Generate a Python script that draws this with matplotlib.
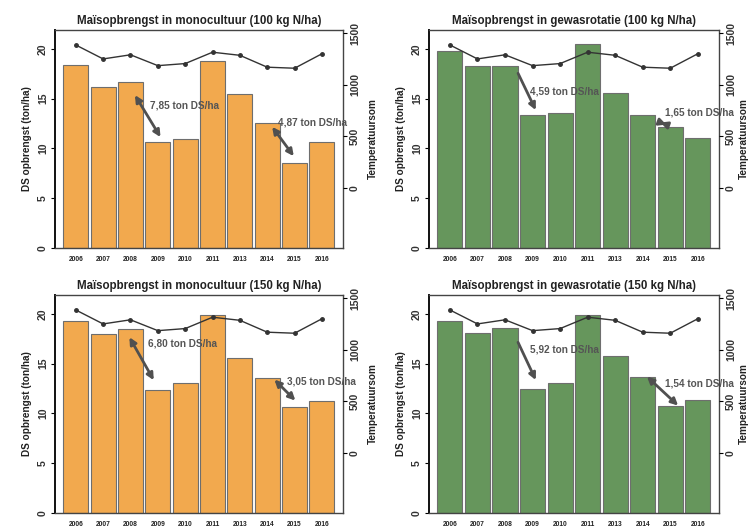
import matplotlib
matplotlib.use("Agg")
import matplotlib.pyplot as plt
import numpy as np

years = ["2006", "2007", "2008", "2009", "2010", "2011", "2013", "2014", "2015", "2016"]
temp_sum = [1385, 1250, 1290, 1185, 1205, 1315, 1285, 1170, 1160, 1300]

mono_100 = [18.4, 16.2, 16.7, 10.6, 11.0, 18.8, 15.5, 12.6, 8.5, 10.6]
rot_100 = [19.8, 18.3, 18.3, 13.4, 13.6, 20.5, 15.6, 13.4, 12.2, 11.1]
mono_150 = [19.3, 18.0, 18.5, 12.4, 13.1, 19.9, 15.6, 13.6, 10.6, 11.3]
rot_150 = [19.3, 18.1, 18.6, 12.5, 13.1, 19.9, 15.8, 13.7, 10.7, 11.4]

titles = ["Maïsopbrengst in monocultuur (100 kg N/ha)",
          "Maïsopbrengst in gewasrotatie (100 kg N/ha)",
          "Maïsopbrengst in monocultuur (150 kg N/ha)",
          "Maïsopbrengst in gewasrotatie (150 kg N/ha)"]

ann_texts = [["7,85 ton DS/ha", "4,87 ton DS/ha"],
             ["4,59 ton DS/ha", "1,65 ton DS/ha"],
             ["6,80 ton DS/ha", "3,05 ton DS/ha"],
             ["5,92 ton DS/ha", "1,54 ton DS/ha"]]

# (text x, text y, arrow start, arrow end) in data coordinates
ann_pos = [[(2.72, 14.3, (2.11, 15.6), (3.15, 10.9)), (7.41, 12.6, (7.12, 12.4), (8.03, 9.0))],
           [(2.90, 15.7, (2.43, 17.8), (3.16, 13.6)), (7.81, 13.6, (7.55, 12.7), (7.95, 12.3))],
           [(2.65, 17.0, (1.91, 17.9), (2.90, 13.1)), (7.74, 13.2, (7.19, 13.6), (8.10, 11.1))],
           [(2.90, 16.4, (2.43, 17.4), (3.16, 13.1)), (7.81, 13.0, (7.08, 13.9), (8.36, 10.6))]]

series = [mono_100, rot_100, mono_150, rot_150]
colors = ["#F2A94E", "#66965C", "#F2A94E", "#66965C"]
arrowstyles = ["<|-|>", "-|>", "<|-|>", "-|>"]

plt.rcParams['font.family'] = ['Liberation Sans', 'DejaVu Sans']

fig = plt.figure(figsize=(7.52, 5.31), dpi=100)
W, H = 752, 531
boxes = [(55, 30, 343, 248), (429, 30, 719, 248), (55, 295, 343, 513), (429, 295, 719, 513)]

x = np.arange(len(years))
for i, (l, t, r, b) in enumerate(boxes):
    ax = fig.add_axes([l / W, (H - b) / H, (r - l) / W, (b - t) / H])
    ax.bar(x, series[i], width=0.91, color=colors[i], edgecolor="#6e6e6e", linewidth=0.8, zorder=2)
    ax.set_xlim(-0.76, 9.77)
    ax.set_ylim(0, 21.9)
    ax.set_yticks([0, 5, 10, 15, 20])
    ax.set_yticklabels(["0", "5", "10", "15", "20"], rotation=90, va="center", fontsize=7.5,
                       fontweight="bold", color="#333333")
    ax.set_xticks(x)
    ax.set_xticklabels(years, fontsize=4.8, fontweight="bold", color="#222222")
    ax.tick_params(axis="x", length=0, pad=6)
    ax.tick_params(axis="y", length=3, width=0.8, pad=2)
    for s in ax.spines.values():
        s.set_color("#444444")
        s.set_linewidth(1.0)
    ax.spines["left"].set_color("#111111")
    ax.spines["left"].set_linewidth(1.4)
    ax.set_ylabel("DS opbrengst (ton/ha)", fontsize=7.2, fontweight="bold", color="#222222", labelpad=4)
    ax.set_title(titles[i], fontsize=8.3, fontweight="bold", color="#222222", pad=4)

    ax2 = ax.twinx()
    ax2.plot(x, temp_sum, color="#333333", linewidth=1.0, marker="o", markersize=2.5, zorder=5)
    ax2.set_ylim(-580, 1530)
    ax2.set_yticks([0, 500, 1000, 1500])
    ax2.set_yticklabels(["0", "500", "1000", "1500"], rotation=90, va="center", fontsize=7.5,
                        fontweight="bold", color="#333333")
    ax2.tick_params(axis="y", length=3, width=0.8, pad=2)
    ax2.set_ylabel("Temperatuursom", fontsize=7.2, fontweight="bold", color="#222222",
                   labelpad=6 if i % 2 == 0 else 2)
    for s in ax2.spines.values():
        s.set_visible(False)

    for j in range(2):
        tx, ty, a0, a1 = ann_pos[i][j]
        ax.annotate("", xy=a1, xytext=a0,
                    arrowprops=dict(arrowstyle=arrowstyles[i] if j == 0 else "<|-|>",
                                    color="#505050", lw=2.0, mutation_scale=10), zorder=6)
        ax.text(tx, ty, ann_texts[i][j], fontsize=7.2, fontweight="bold", color="#555555",
                va="center", ha="left", zorder=7)

fig.savefig("out.png", dpi=100)
